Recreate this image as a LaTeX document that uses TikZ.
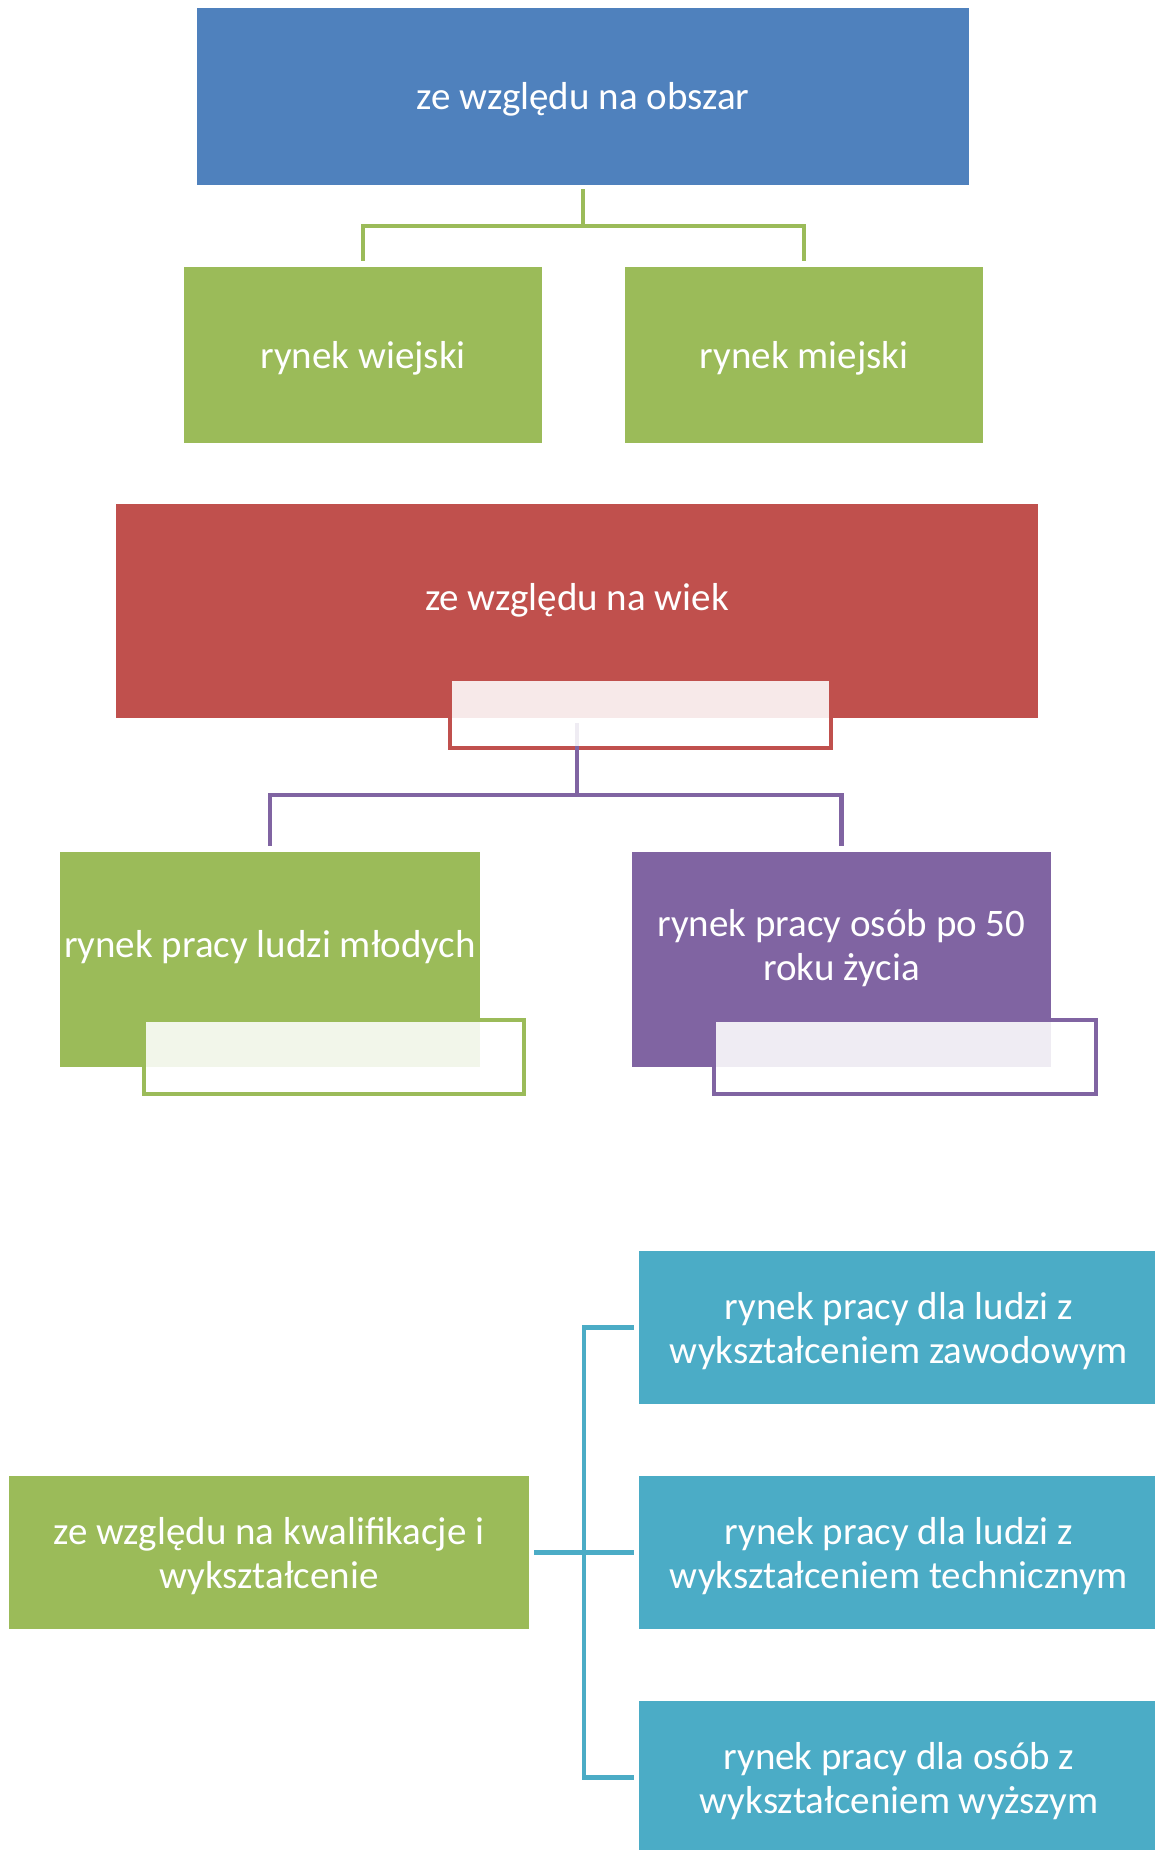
\documentclass[tikz,border=0pt]{standalone}
\usepackage{fontspec}
\setmainfont{Carlito}
\definecolor{obszarblue}{HTML}{4F81BD}
\definecolor{rynekgreen}{HTML}{9BBB59}
\definecolor{wiekred}{HTML}{C0504D}
\definecolor{wiekpurple}{HTML}{8064A2}
\definecolor{kwalteal}{HTML}{4BACC6}
\newcommand\dolnystrut{\rule{0pt}{33pt}}
\newcommand\wysokistrut{\rule{0pt}{35pt}}
\begin{document}
\begin{tikzpicture}[x=1pt,y=-1pt]
  \useasboundingbox (0,0) rectangle (1155,1850);

  % frames under the boxes
  \begin{scope}[every node/.style={rectangle,line width=4.5pt,inner sep=0pt}]
    \node[draw=wiekred,minimum width=381,minimum height=69] (wiekramka) at (640.5,713.5) {};
    \node[draw=rynekgreen,minimum width=380,minimum height=74] (mlodziramka) at (334,1057) {};
    \node[draw=wiekpurple,minimum width=382,minimum height=74] (po50ramka) at (905,1057) {};
  \end{scope}

  \begin{scope}[every node/.style={rectangle,text=white,align=center,inner sep=0pt,
      font=\fontsize{39}{44}\selectfont,execute at begin node=\dolnystrut}]
    \node[fill=obszarblue,minimum width=772,minimum height=177] (obszar) at (583,96.5) {ze względu na obszar};
    \node[fill=rynekgreen,minimum width=358,minimum height=176] (wiejski) at (363,355) {rynek wiejski};
    \node[fill=rynekgreen,minimum width=358,minimum height=176] (miejski) at (804,355) {rynek miejski};
    \node[fill=wiekred,minimum width=922,minimum height=214] (wiek) at (577,611) {};
    \node (wiektxt) at (577,597) {ze względu na wiek};
    \node[fill=rynekgreen,minimum width=420,minimum height=215] (mlodzi) at (270,959.5) {};
    \node (mlodzitxt) at (270,944) {rynek pracy ludzi młodych};
    \node[fill=wiekpurple,minimum width=419,minimum height=215] (po50) at (841.5,959.5) {};
    \node (po50txt) at (841.5,944) {\wysokistrut rynek pracy osób po 50\\roku życia};
    \node[fill=rynekgreen,minimum width=520,minimum height=153] (kwal) at (269,1552.5) {\wysokistrut ze względu na kwalifikacje i\\wykształcenie};
    \node[fill=kwalteal,minimum width=520,minimum height=153] (zawod) at (899,1327.5) {\wysokistrut rynek pracy dla ludzi z\\wykształceniem zawodowym};
    \node[fill=kwalteal,minimum width=520,minimum height=153] (techn) at (899,1552.5) {\wysokistrut rynek pracy dla ludzi z\\wykształceniem technicznym};
    \node[fill=kwalteal,minimum width=520,minimum height=153] (wyzsz) at (899,1777.5) {\wysokistrut rynek pracy dla osób z\\wykształceniem wyższym};
  \end{scope}

  % connectors
  \begin{scope}[line width=4.5pt,line join=miter]
    \coordinate (obszarpion) at ([yshift=-41pt]obszar.south);
    \draw[rynekgreen] ([yshift=-4pt]obszar.south) -- (obszarpion) -| ([yshift=6pt]wiejski.north);
    \draw[rynekgreen] (obszarpion) -| ([yshift=6pt]miejski.north);
    \coordinate (wiekpion) at ([yshift=-77pt]wiek.south);
    \draw[wiekpurple] ([yshift=-5pt]wiek.south) -- (wiekpion) -| ([yshift=6pt]mlodzi.north);
    \draw[wiekpurple] (wiekpion) -| ([yshift=6pt]po50.north);
    \coordinate (kwalpion) at ([xshift=55pt]kwal.east);
    \draw[kwalteal] ([xshift=5pt]kwal.east) -- ([xshift=-5pt]techn.west);
    \draw[kwalteal] ([xshift=-5pt]zawod.west) -| (kwalpion) |- ([xshift=-5pt]wyzsz.west);
  \end{scope}

  % white veils over the frames
  \begin{scope}[every node/.style={rectangle,fill=white,fill opacity=0.88,inner sep=0pt}]
    \node[minimum width=377,minimum height=65] (wiekwelon) at (wiekramka) {};
    \node[minimum width=376,minimum height=70] (mlodziwelon) at (mlodziramka) {};
    \node[minimum width=378,minimum height=70] (po50welon) at (po50ramka) {};
  \end{scope}

\end{tikzpicture}
\end{document}
